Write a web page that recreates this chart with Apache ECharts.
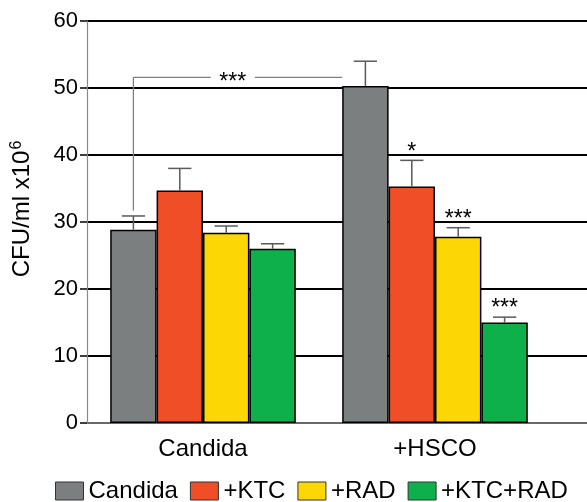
<!DOCTYPE html>
<html>
<head>
<meta charset="utf-8">
<style>
  html, body { margin: 0; padding: 0; background: #fff; }
  #chart { width: 587px; height: 502px; }
</style>
<script src="https://cdn.jsdelivr.net/npm/echarts@6/dist/echarts.min.js"></script>
</head>
<body>
<div id="chart"></div>
<script>
// ---- data ----
const categories = ['Candida', '+HSCO'];
const seriesNames = ['Candida', '+KTC', '+RAD', '+KTC+RAD'];
const candidaMean = [28.85, 50.3];
const ktcMean = [34.7, 35.3];
const radMean = [28.4, 27.8];
const ktcRadMean = [26.0, 15.0];
const candidaErr = [2.05, 3.7];
const ktcErr = [3.3, 3.9];
const radErr = [1.0, 1.35];
const ktcRadErr = [0.75, 0.8];
const candidaSig = ['', ''];
const ktcSig = ['', '*'];
const radSig = ['', '***'];
const ktcRadSig = ['', '***'];
const bracketLabel = '***';
const bracketTop = 51.6;
const bracketBottom = 31.7;
const yMin = 0, yMax = 60, yStep = 10;
const colors = ['#7b7f80', '#f04e27', '#fdd705', '#0db04b'];

const means = [candidaMean, ktcMean, radMean, ktcRadMean];
const errs = [candidaErr, ktcErr, radErr, ktcRadErr];
const sigs = [candidaSig, ktcSig, radSig, ktcRadSig];
const FONT = "'Liberation Sans', Arial, sans-serif";
const CAT_GAP = 0.2;
const N = seriesNames.length;

const errData = [];
means.forEach((m, j) => m.forEach((v, i) => errData.push([i, v, errs[j][i], j, sigs[j][i]])));

function barCenter(api, i, v, j) {
  const band = api.size([1, 0])[0];
  const barW = band * (1 - CAT_GAP) / N;
  const p = api.coord([i, v]);
  return { x: p[0] + (j - (N - 1) / 2) * barW, y: p[1], w: barW };
}

const chart = echarts.init(document.getElementById('chart'), null, { renderer: 'canvas' });
const option = {
  animation: false,
  backgroundColor: '#fff',
  textStyle: { fontFamily: FONT },
  grid: [
    { left: 87, right: 0, top: 21, bottom: 79 },
    { left: 87, right: 36, top: 21, bottom: 79 }
  ],
  legend: {
    data: seriesNames,
    left: 55, top: 479, padding: 0,
    itemWidth: 28, itemHeight: 18, itemGap: 12,
    icon: 'rect',
    itemStyle: { borderColor: '#333', borderWidth: 1 },
    textStyle: { fontSize: 24, color: '#000', fontFamily: FONT }
  },
  xAxis: [
    { gridIndex: 0, type: 'value', min: 0, max: 1,
      axisLine: { show: true, lineStyle: { color: '#8a8a8a', width: 1.5 } },
      axisTick: { show: false }, axisLabel: { show: false }, splitLine: { show: false } },
    { gridIndex: 1, type: 'category', data: categories,
      axisLine: { show: false }, axisTick: { show: false },
      axisLabel: { fontSize: 24, color: '#000', margin: 14, fontFamily: FONT },
      splitLine: { show: false } }
  ],
  yAxis: [
    { gridIndex: 0, type: 'value', min: yMin, max: yMax, interval: yStep,
      name: '{t|CFU/ml x10}{s|6}', nameLocation: 'middle', nameGap: 52, nameRotate: 90,
      nameTextStyle: {
        padding: [0, 0, 0, 26],
        rich: {
          t: { fontSize: 24, color: '#000', fontFamily: FONT },
          s: { fontSize: 16, color: '#000', fontFamily: FONT, verticalAlign: 'top', padding: [0, 0, 10, 1] }
        }
      },
      axisLine: { show: true, lineStyle: { color: '#8a8a8a', width: 1.2 } },
      axisTick: { show: true, inside: false, length: 7, lineStyle: { color: '#000', width: 1.5 } },
      axisLabel: { fontSize: 22, color: '#000', margin: 9, fontFamily: FONT },
      splitLine: { show: true, lineStyle: { color: '#000', width: 2 } } },
    { gridIndex: 1, type: 'value', min: yMin, max: yMax, interval: yStep, show: false,
      splitLine: { show: false } }
  ],
  series: [
    ...seriesNames.map((name, j) => ({
      name, type: 'bar', xAxisIndex: 1, yAxisIndex: 1,
      data: means[j], barGap: 0, barCategoryGap: (CAT_GAP * 100) + '%',
      itemStyle: { color: colors[j], borderColor: '#000', borderWidth: 1.5 }
    })),
    {
      name: 'errors', type: 'custom', xAxisIndex: 1, yAxisIndex: 1, z: 5,
      data: errData,
      renderItem(params, api) {
        const i = api.value(0), v = api.value(1), e = api.value(2), j = api.value(3);
        const sig = errData[params.dataIndex][4];
        const b = barCenter(api, i, v, j);
        const t = api.coord([i, v + e]);
        const half = b.w * 0.25;
        const st = { stroke: '#5a5a5a', lineWidth: 1.5 };
        const children = [
          { type: 'line', shape: { x1: b.x, y1: b.y, x2: b.x, y2: t[1] }, style: st },
          { type: 'line', shape: { x1: b.x - half, y1: t[1], x2: b.x + half, y2: t[1] }, style: st }
        ];
        if (sig) {
          children.push({ type: 'text', x: b.x, y: t[1] - 8,
            style: { text: sig, fontSize: 23, fontFamily: FONT, fill: '#000', align: 'center', verticalAlign: 'middle' } });
        }
        return { type: 'group', children };
      }
    },
    {
      name: 'bracket', type: 'custom', xAxisIndex: 1, yAxisIndex: 1, z: 4,
      data: [[0, bracketTop, bracketBottom]],
      renderItem(params, api) {
        const top = api.value(1), bot = api.value(2);
        const a = barCenter(api, 0, top, 0);
        const c = barCenter(api, 1, top, 0);
        const ab = api.coord([0, bot]);
        const xEnd = c.x - c.w / 2;
        const mid = (a.x + xEnd) / 2 - 5;
        const gap = 22;
        const st = { stroke: '#7f7f7f', lineWidth: 1.3 };
        return { type: 'group', children: [
          { type: 'line', shape: { x1: a.x, y1: ab[1], x2: a.x, y2: a.y }, style: st },
          { type: 'line', shape: { x1: a.x, y1: a.y, x2: mid - gap, y2: a.y }, style: st },
          { type: 'line', shape: { x1: mid + gap, y1: a.y, x2: xEnd, y2: a.y }, style: st },
          { type: 'text', x: mid, y: a.y + 5,
            style: { text: bracketLabel, fontSize: 23, fontFamily: FONT, fill: '#000', align: 'center', verticalAlign: 'middle' } }
        ]};
      }
    }
  ]
};
chart.setOption(option);
</script>
</body>
</html>
